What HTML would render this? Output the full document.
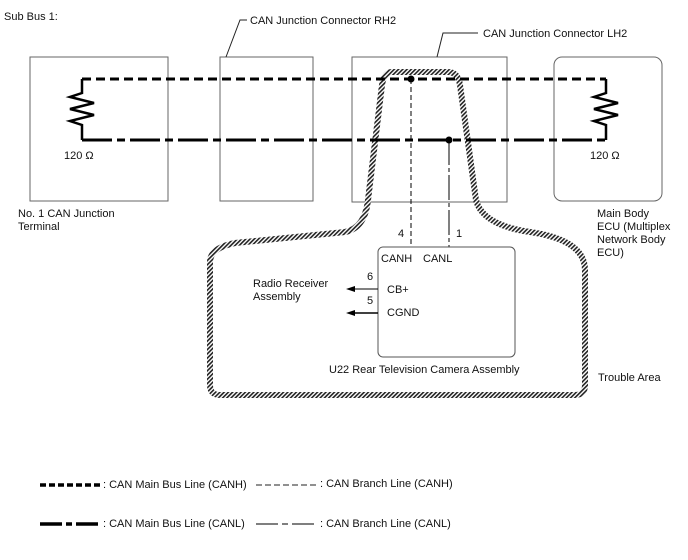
<!DOCTYPE html>
<html><head><style>body{margin:0;background:#fff}svg{display:block}text{font-family:"Liberation Sans",sans-serif;font-size:11px;fill:#111}</style></head><body>
<svg width="688" height="560" viewBox="0 0 688 560">
<defs><pattern id="h" width="3" height="3" patternUnits="userSpaceOnUse" patternTransform="rotate(45)"><rect width="3" height="3" fill="#fff"/><rect width="1.6" height="3" fill="#222"/></pattern></defs>
<text x="4" y="20" font-size="13">Sub Bus 1:</text>
<g fill="none" stroke="#666" stroke-width="1">
<rect x="30" y="57" width="138" height="144"/>
<rect x="220" y="57" width="93" height="144"/>
<rect x="352" y="57" width="155" height="145"/>
<rect x="554" y="57" width="108" height="144" rx="8"/>
</g>
<polyline points="226,57 240,20 247,20" fill="none" stroke="#222"/>
<text x="250" y="24">CAN Junction Connector RH2</text>
<polyline points="437,57 443,33 478,33" fill="none" stroke="#222"/>
<text x="483" y="37">CAN Junction Connector LH2</text>
<path d="M392,72 L448,72 Q458,72 460,85 L476,200 Q482,225 530,232 Q585,240 585,270 L585,385 Q585,395 575,395 L220,395 Q210,395 210,385 L210,262 Q210,248 235,243 L345,232 Q365,228 368,200 L382,85 Q384,72 392,72 Z" fill="none" stroke="url(#h)" stroke-width="6"/>
<line x1="82" y1="79" x2="606" y2="79" stroke="#000" stroke-width="3" stroke-dasharray="9,5"/>
<line x1="82" y1="140" x2="606" y2="140" stroke="#000" stroke-width="3" stroke-dasharray="30,5,8,5"/>
<polyline points="82,79 82,93 70,97 94,103 70,109 94,115 70,121 82,125 82,140" fill="none" stroke="#000" stroke-width="2.5"/>
<polyline points="606,79 606,93 594,97 618,103 594,109 618,115 594,121 606,125 606,140" fill="none" stroke="#000" stroke-width="2.5"/>
<text x="64" y="159">120 Ω</text><text x="590" y="159">120 Ω</text>
<circle cx="411" cy="79" r="3.5"/><circle cx="449" cy="140" r="3.5"/>
<line x1="411" y1="79" x2="411" y2="247" stroke="#000" stroke-dasharray="5,3"/>
<line x1="449" y1="140" x2="449" y2="247" stroke="#000" stroke-dasharray="25,3,4,3"/>
<text x="398" y="237">4</text><text x="456" y="237">1</text>
<rect x="378" y="247" width="137" height="110" rx="5" fill="none" stroke="#555"/>
<text x="381" y="262">CANH</text><text x="423" y="262">CANL</text>
<text x="387" y="293">CB+</text><text x="387" y="316">CGND</text>
<text x="367" y="280">6</text><text x="367" y="304">5</text>
<line x1="378" y1="289" x2="352" y2="289" stroke="#000"/><polygon points="346,289 355,286 355,292"/>
<line x1="378" y1="313" x2="352" y2="313" stroke="#000" stroke-width="1.5"/><polygon points="346,313 355,310 355,316"/>
<text x="253" y="287">Radio Receiver</text><text x="253" y="300">Assembly</text>
<text x="329" y="373">U22  Rear Television Camera Assembly</text>
<text x="598" y="381">Trouble Area</text>
<text x="18" y="217">No. 1 CAN Junction</text><text x="18" y="230">Terminal</text>
<text x="597" y="217">Main Body</text><text x="597" y="230">ECU (Multiplex</text><text x="597" y="243">Network Body</text><text x="597" y="256">ECU)</text>
<line x1="40" y1="485" x2="100" y2="485" stroke="#000" stroke-width="3.5" stroke-dasharray="6,3"/>
<text x="103" y="488">: CAN Main Bus Line (CANH)</text>
<line x1="256" y1="485" x2="316" y2="485" stroke="#222" stroke-dasharray="6,3"/>
<text x="320" y="487">: CAN Branch Line (CANH)</text>
<line x1="40" y1="524" x2="100" y2="524" stroke="#000" stroke-width="3.5" stroke-dasharray="22,4,6,4"/>
<text x="103" y="527">: CAN Main Bus Line (CANL)</text>
<line x1="256" y1="524" x2="316" y2="524" stroke="#333" stroke-width="1.3" stroke-dasharray="22,4,6,4"/>
<text x="320" y="527">: CAN Branch Line (CANL)</text>
</svg>
</body></html>
